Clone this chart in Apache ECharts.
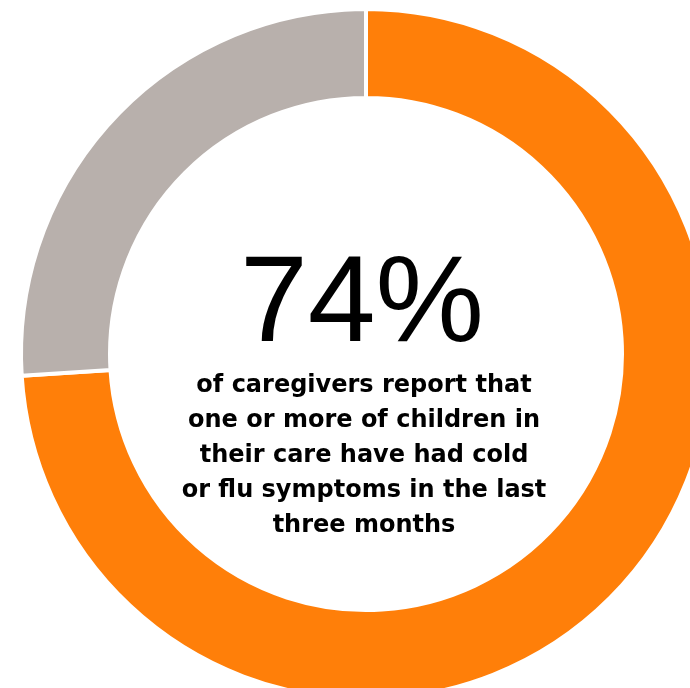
<!DOCTYPE html>
<html>
<head>
<meta charset="utf-8">
<script src="https://cdn.jsdelivr.net/npm/echarts@6/dist/echarts.min.js"></script>
<style>html,body{margin:0;padding:0;background:#fff;}#chart{width:690px;height:688px;}</style>
</head>
<body>
<div id="chart"></div>
<script>
const categories = ['Had cold or flu symptoms', 'Did not'];
const values = [74, 26];
const colors = ['#FF7F09', '#B8B0AC'];
const bigLabel = '74%';
const caption = 'of caregivers report that\none or more of children in\ntheir care have had cold\nor flu symptoms in the last\nthree months';

const chart = echarts.init(document.getElementById('chart'));
chart.setOption({
  animation: false,
  series: [{
    type: 'pie',
    center: [366, 354],
    radius: [256, 345],
    startAngle: 90,
    clockwise: true,
    silent: true,
    label: { show: false },
    labelLine: { show: false },
    itemStyle: { borderColor: '#ffffff', borderWidth: 4 },
    data: categories.map((c, i) => ({ name: c, value: values[i], itemStyle: { color: colors[i] } }))
  }],
  graphic: [
    {
      type: 'text',
      x: 362, y: 307,
      style: {
        text: bigLabel,
        fill: '#000',
        font: 'normal 122px "Liberation Sans", Arial, sans-serif',
        align: 'center',
        verticalAlign: 'middle'
      }
    },
    {
      type: 'text',
      x: 364, y: 456,
      style: {
        text: caption,
        fill: '#000',
        font: 'bold 24px "DejaVu Sans", sans-serif',
        lineHeight: 35,
        align: 'center',
        verticalAlign: 'middle'
      }
    }
  ]
});
</script>
</body>
</html>
